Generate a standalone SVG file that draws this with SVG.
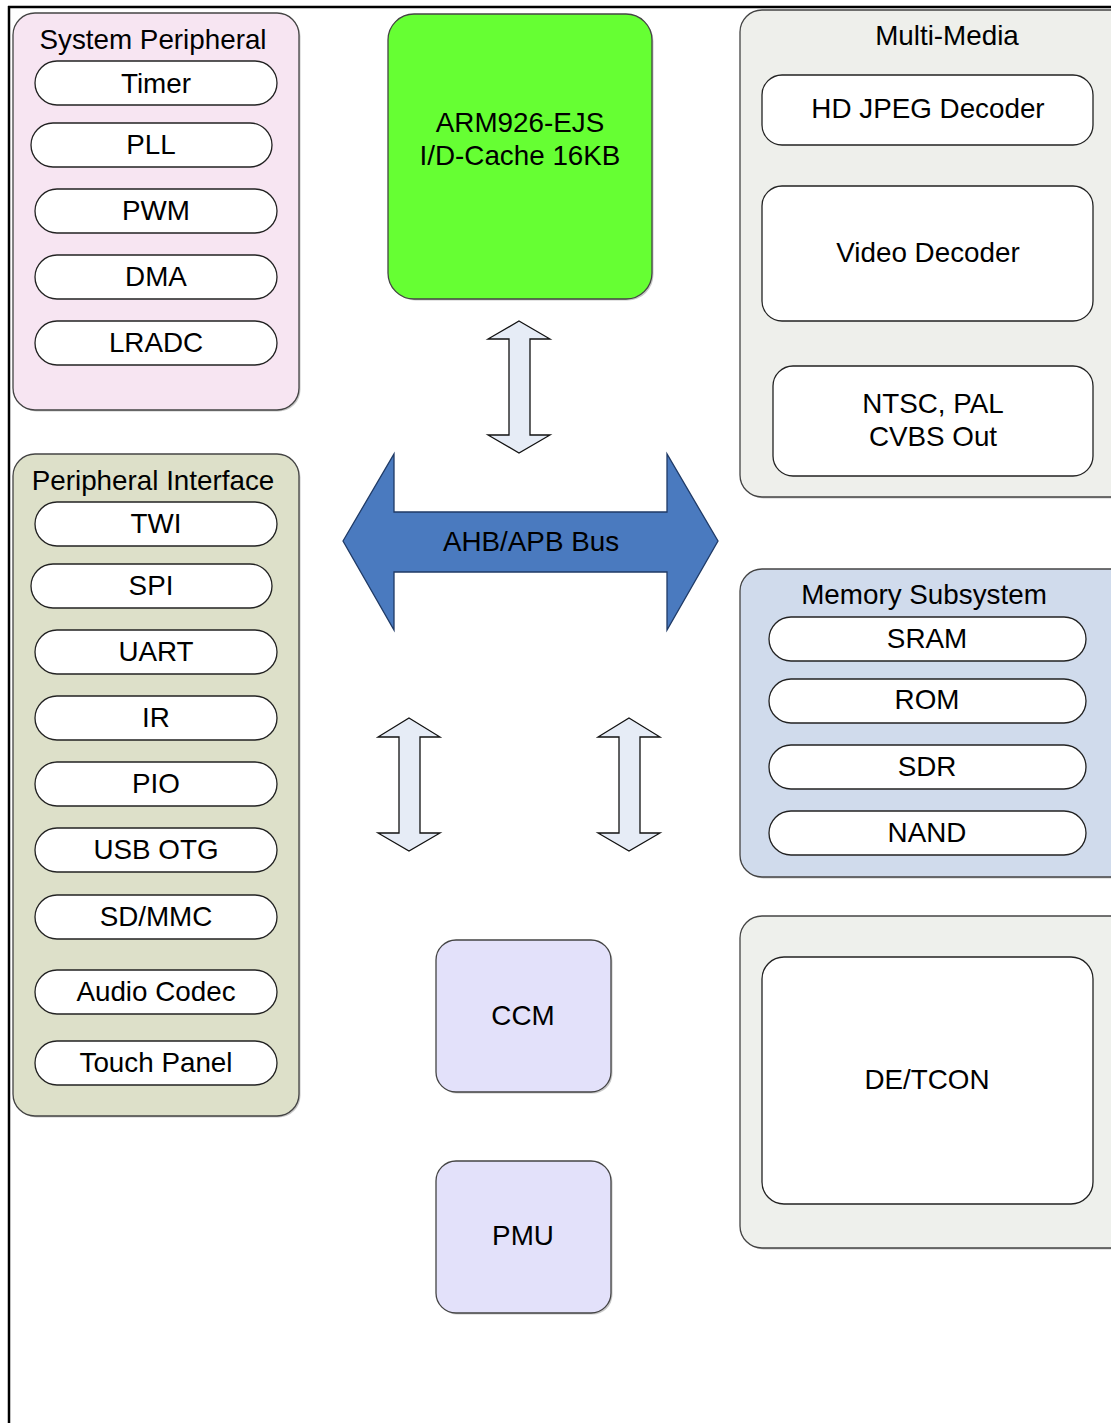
<svg xmlns="http://www.w3.org/2000/svg" width="1111" height="1423" viewBox="0 0 1111 1423">
<style>
text{font-family:"Liberation Sans",Arial,sans-serif;font-size:27.8px;fill:#000;text-anchor:middle}
.grp{stroke:#444;stroke-width:1.3}
.pill{fill:#fff;stroke:#222;stroke-width:1.3}
.sh{fill:#9a9a9a;opacity:0.55}
.arr{fill:#e6ecf6;stroke:#111;stroke-width:1.3;stroke-linejoin:miter}
</style>
<rect x="0" y="0" width="1111" height="1423" fill="#fff"/>
<g id="frame" fill="none" stroke="#000" stroke-width="2.5">
<line x1="8" y1="7" x2="1111" y2="7"/>
<line x1="9" y1="6" x2="9" y2="1423"/>
</g>

<g id="system-peripheral">
<rect class="sh" x="14.5" y="14.5" width="286" height="397" rx="22"/>
<rect class="grp" x="13" y="13" width="286" height="397" rx="22" fill="#f7e5f2"/>
<text x="153" y="49">System Peripheral</text>
<rect class="pill" x="35" y="61" width="242" height="44" rx="22"/><text x="156" y="93">Timer</text>
<rect class="pill" x="31" y="123" width="241" height="44" rx="22"/><text x="151" y="154">PLL</text>
<rect class="pill" x="35" y="189" width="242" height="44" rx="22"/><text x="156" y="220">PWM</text>
<rect class="pill" x="35" y="255" width="242" height="44" rx="22"/><text x="156" y="286">DMA</text>
<rect class="pill" x="35" y="321" width="242" height="44" rx="22"/><text x="156" y="352">LRADC</text>
</g>

<g id="peripheral-interface">
<rect class="sh" x="14.5" y="455.5" width="286" height="662" rx="22"/>
<rect class="grp" x="13" y="454" width="286" height="662" rx="22" fill="#dde0c9"/>
<text x="153" y="490">Peripheral Interface</text>
<rect class="pill" x="35" y="502" width="242" height="44" rx="22"/><text x="156" y="533">TWI</text>
<rect class="pill" x="31" y="564" width="241" height="44" rx="22"/><text x="151" y="595">SPI</text>
<rect class="pill" x="35" y="630" width="242" height="44" rx="22"/><text x="156" y="661">UART</text>
<rect class="pill" x="35" y="696" width="242" height="44" rx="22"/><text x="156" y="727">IR</text>
<rect class="pill" x="35" y="762" width="242" height="44" rx="22"/><text x="156" y="793">PIO</text>
<rect class="pill" x="35" y="828" width="242" height="44" rx="22"/><text x="156" y="859">USB OTG</text>
<rect class="pill" x="35" y="895" width="242" height="44" rx="22"/><text x="156" y="926">SD/MMC</text>
<rect class="pill" x="35" y="970" width="242" height="44" rx="22"/><text x="156" y="1001">Audio Codec</text>
<rect class="pill" x="35" y="1041" width="242" height="44" rx="22"/><text x="156" y="1072">Touch Panel</text>
</g>

<g id="arm-cpu">
<rect class="sh" x="389.5" y="15.5" width="264" height="285" rx="26"/>
<rect class="grp" x="388" y="14" width="264" height="285" rx="26" fill="#66ff33"/>
<text x="520" y="132">ARM926-EJS</text>
<text x="520" y="165">I/D-Cache 16KB</text>
</g>

<g id="multi-media">
<rect class="sh" x="741.5" y="11.5" width="400" height="487" rx="22"/>
<rect class="grp" x="740" y="10" width="400" height="487" rx="22" fill="#eeefeb"/>
<text x="947" y="45">Multi-Media</text>
<rect class="pill" x="762" y="75" width="331" height="70" rx="20"/><text x="928" y="118">HD JPEG Decoder</text>
<rect class="pill" x="762" y="186" width="331" height="135" rx="20"/><text x="928" y="262">Video Decoder</text>
<rect class="pill" x="773" y="366" width="320" height="110" rx="20"/>
<text x="933" y="413">NTSC, PAL</text>
<text x="933" y="446">CVBS Out</text>
</g>

<g id="memory-subsystem">
<rect class="sh" x="741.5" y="570.5" width="400" height="308" rx="22"/>
<rect class="grp" x="740" y="569" width="400" height="308" rx="22" fill="#d0dbec"/>
<text x="924" y="604">Memory Subsystem</text>
<rect class="pill" x="769" y="617" width="317" height="44" rx="22"/><text x="927" y="648">SRAM</text>
<rect class="pill" x="769" y="679" width="317" height="44" rx="22"/><text x="927" y="709">ROM</text>
<rect class="pill" x="769" y="745" width="317" height="44" rx="22"/><text x="927" y="776">SDR</text>
<rect class="pill" x="769" y="811" width="317" height="44" rx="22"/><text x="927" y="842">NAND</text>
</g>

<g id="de-tcon">
<rect class="sh" x="741.5" y="917.5" width="400" height="332" rx="22"/>
<rect class="grp" x="740" y="916" width="400" height="332" rx="22" fill="#eef0ec"/>
<rect class="pill" x="762" y="957" width="331" height="247" rx="22"/>
<text x="927" y="1089">DE/TCON</text>
</g>

<g id="ccm">
<rect class="sh" x="437.5" y="941.5" width="175" height="152" rx="20"/>
<rect class="grp" x="436" y="940" width="175" height="152" rx="20" fill="#e3e1fa"/>
<text x="523" y="1025">CCM</text>
</g>

<g id="pmu">
<rect class="sh" x="437.5" y="1162.5" width="175" height="152" rx="20"/>
<rect class="grp" x="436" y="1161" width="175" height="152" rx="20" fill="#e3e1fa"/>
<text x="523" y="1245">PMU</text>
</g>

<g id="bus">
<polygon points="343,541 394,454 394,512 667,512 667,454 718,541 667,630 667,572 394,572 394,630" fill="#4a7abf" stroke="#1f3a66" stroke-width="1.3"/>
<text x="531" y="551">AHB/APB Bus</text>
</g>

<g id="connectors">
<polygon class="arr" points="519,321 550,339 530,339 530,435 550,435 519,453 488,435 509,435 509,339 488,339"/>
<polygon class="arr" points="409,718 440,737 420,737 420,833 440,833 409,851 378,833 399,833 399,737 378,737"/>
<polygon class="arr" points="629,718 660,737 640,737 640,833 660,833 629,851 598,833 619,833 619,737 598,737"/>
</g>
</svg>
